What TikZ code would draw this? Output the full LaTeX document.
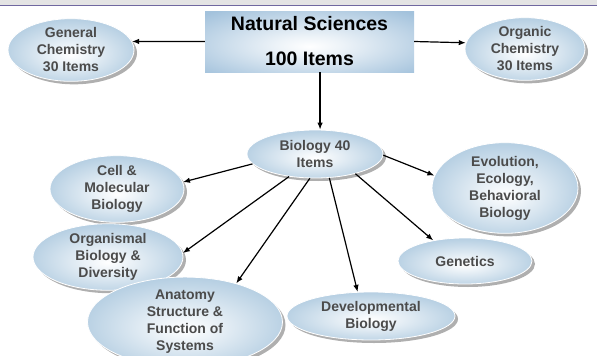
\documentclass[tikz,border=0pt]{standalone}
\usepackage{fontspec}
\setmainfont{Liberation Sans}
\usetikzlibrary{shapes.geometric,
                arrows.meta, % for the arrow tips
                shadows,     % for the grey shadows
                positioning}

\definecolor{ellblue}{RGB}{150,186,214}
\definecolor{boxblue}{RGB}{163,194,220}
\definecolor{txtgray}{RGB}{75,75,75}
\definecolor{bandgray}{RGB}{228,228,228}
\definecolor{bandline}{RGB}{112,104,160}

\pgfdeclareradialshading{ellshade}{\pgfpoint{0bp}{-4bp}}{color(0bp)=(white); color(6bp)=(white!85!ellblue); color(38bp)=(ellblue); color(50bp)=(ellblue)}
\pgfdeclareradialshading{boxshade}{\pgfpoint{0bp}{-4bp}}{color(0bp)=(white); color(8bp)=(white!80!boxblue); color(35bp)=(boxblue); color(70bp)=(boxblue)}

\begin{document}
\begin{tikzpicture}[x=1pt, y=-1pt,
                    topic/.style={ellipse, draw=white, line width=0.8pt, shading=ellshade,
                                  inner sep=0pt, align=center, text=txtgray,
                                  font=\bfseries\fontsize{14}{17}\selectfont,
                                  drop shadow={shadow xshift=3pt, shadow yshift=-3pt,
                                               fill=black!35, opacity=0.9}},
                    hubbox/.style={rectangle, shading=boxshade, inner sep=0pt, align=center,
                                   font=\bfseries\fontsize{19.5}{22}\selectfont},
                    link/.style={-{Latex[length=7pt,width=5.5pt]}, line width=1.2pt}
                    ]
    \useasboundingbox (0,0) rectangle (597,356);
    % top band
    \fill[bandgray] (0,0) rectangle (597,5);
    \draw[bandline, line width=1.2pt] (0,5.5) -- (597,5.5);

    \node[hubbox, minimum width=209pt, minimum height=61pt] (natsci) at (309.5,41.5)
        {Natural Sciences\\[13pt]100 Items};
    \node[topic, minimum width=126pt, minimum height=60pt] (genchem) at (71,50)
        {General\\Chemistry\\30 Items};
    \node[topic, minimum width=120pt, minimum height=60pt] (orgchem) at (525,49)
        {Organic\\Chemistry\\30 Items};

    \node[topic, minimum width=136pt, minimum height=48pt] (biology) at (315,154)
        {Biology 40\\Items};
    \node[topic, minimum width=134pt, minimum height=52pt] (cellbio) at (117,189)
        {Cell \&\\Molecular\\Biology};
    \node[topic, minimum width=150pt, minimum height=50pt] (orgbio) at (108,257)
        {Organismal\\Biology \&\\Diversity};
    \node[topic, minimum width=195pt, minimum height=74pt] (anatomy) at (185,322)
        {Anatomy\\Structure \&\\Function of\\Systems};
    \node[topic, minimum width=168pt, minimum height=48pt] (devbio) at (371,316)
        {Developmental\\Biology};
    \node[topic, minimum width=134pt, minimum height=46pt] (genetics) at (465,261)
        {Genetics};
    \node[topic, minimum width=146pt, minimum height=66pt] (evolution) at (505,188)
        {Evolution,\\Ecology,\\Behavioral\\Biology};

    \draw[link] (natsci.west) -- (genchem.8);
    \draw[link] (natsci.east) -- (orgchem.174);
    \draw[link] (natsci.289) -- (natsci.289 |- biology.north);

    \draw[link] (biology.189) -- (cellbio.6);
    \draw[link] (biology.221) -- (orgbio.3);
    \draw[link] (biology.258) -- (anatomy.37);
    \draw[link] (biology.301) -- (devbio.119);
    \draw[link] (biology.334) -- (genetics.147);
    \draw[link] (biology.359) -- (evolution.170);
\end{tikzpicture}
\end{document}
